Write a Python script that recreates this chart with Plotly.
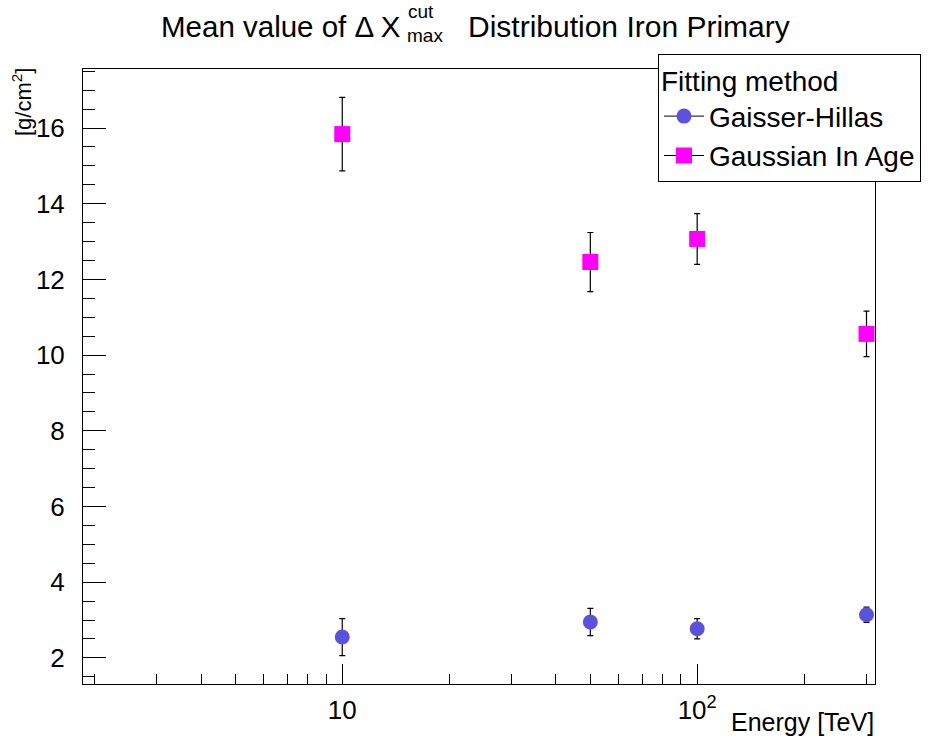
import math
import plotly.graph_objects as go

energy = [10, 50, 100, 300]
gh_mean = [2.55, 2.95, 2.77, 3.14]
gh_err = [0.49, 0.36, 0.27, 0.20]
ga_mean = [15.84, 12.46, 13.07, 10.56]
ga_err = [0.97, 0.78, 0.67, 0.60]

x_major = [10, 100]
x_major_text = ["10", "10<sup>2</sup>"]
x_minor = [2, 3, 4, 5, 6, 7, 8, 9, 20, 30, 40, 50, 60, 70, 80, 90, 200, 300]

FONT = "Liberation Sans, Arial, sans-serif"
BLUE = "#5a52dc"
MAG = "#ff00ff"

fig = go.Figure()
fig.add_trace(go.Scatter(
    x=energy, y=gh_mean, mode="markers", showlegend=False,
    marker=dict(symbol="circle", size=15, color=BLUE, line=dict(width=0)),
    error_y=dict(type="data", array=gh_err, color="black", thickness=1.2, width=3),
))
fig.add_trace(go.Scatter(
    x=energy, y=ga_mean, mode="markers", showlegend=False,
    marker=dict(symbol="square", size=16, color=MAG, line=dict(width=0)),
    error_y=dict(type="data", array=ga_err, color="black", thickness=1.2, width=3),
))
# legend entries
fig.add_trace(go.Scatter(
    x=[None], y=[None], mode="lines+markers", name="Gaisser-Hillas",
    marker=dict(symbol="circle", size=15, color=BLUE),
    line=dict(color="black", width=1),
))
fig.add_trace(go.Scatter(
    x=[None], y=[None], mode="lines+markers", name="Gaussian In Age",
    marker=dict(symbol="square", size=16, color=MAG),
    line=dict(color="black", width=1),
))

fig.update_layout(
    width=947, height=742,
    margin=dict(l=83, r=72, t=69, b=58),
    paper_bgcolor="white", plot_bgcolor="white",
    font=dict(family=FONT, size=26, color="black"),
    showlegend=True,
    legend=dict(
        title=dict(text="Fitting method", font=dict(size=28)),
        x=(658 - 83) / 792, y=(684 - 54) / 615, xanchor="left", yanchor="top",
        bgcolor="white", bordercolor="black", borderwidth=1,
        font=dict(size=28), itemwidth=40,
    ),
    xaxis=dict(
        type="log", range=[math.log10(1.86), math.log10(317)],
        showline=True, linecolor="black", linewidth=1, mirror=True,
        showgrid=False, zeroline=False,
        tickmode="array", tickvals=x_major, ticktext=x_major_text,
        ticks="inside", ticklen=20, tickcolor="black", tickwidth=1,
        tickfont=dict(size=26), ticklabelstandoff=3,
        minor=dict(tickmode="array", tickvals=x_minor, ticks="inside",
                   ticklen=10, tickcolor="black", tickwidth=1, showgrid=False),
    ),
    yaxis=dict(
        range=[1.31, 17.56],
        showline=True, linecolor="black", linewidth=1, mirror=True,
        showgrid=False, zeroline=False,
        tickmode="linear", tick0=0, dtick=2,
        ticks="inside", ticklen=23, tickcolor="black", tickwidth=1,
        tickfont=dict(size=26), ticklabelstandoff=12,
        minor=dict(dtick=0.5, ticks="inside", ticklen=12,
                   tickcolor="black", tickwidth=1, showgrid=False),
    ),
)

def px_x(p):
    return (p - 83) / 792

def px_y(p):
    return (684 - p) / 615

ann = [
    dict(text="Mean value of Δ X", x=px_x(403), y=px_y(26), xanchor="right", yanchor="middle", font=dict(size=29.5)),
    dict(text="cut", x=px_x(406), y=px_y(12), xanchor="left", yanchor="middle", font=dict(size=19)),
    dict(text="max", x=px_x(405), y=px_y(35), xanchor="left", yanchor="middle", font=dict(size=19)),
    dict(text="Distribution Iron Primary", x=px_x(466), y=px_y(26), xanchor="left", yanchor="middle", font=dict(size=30)),
    dict(text="[g/cm<sup>2</sup>]", x=px_x(22), y=px_y(66), xanchor="center", yanchor="top", textangle=-90, font=dict(size=22)),
    dict(text="Energy [TeV]", x=px_x(876), y=px_y(722), xanchor="right", yanchor="middle", font=dict(size=25)),
]
for a in ann:
    a.update(xref="paper", yref="paper", showarrow=False)
    fig.add_annotation(**a)

fig.write_html("out.html")
